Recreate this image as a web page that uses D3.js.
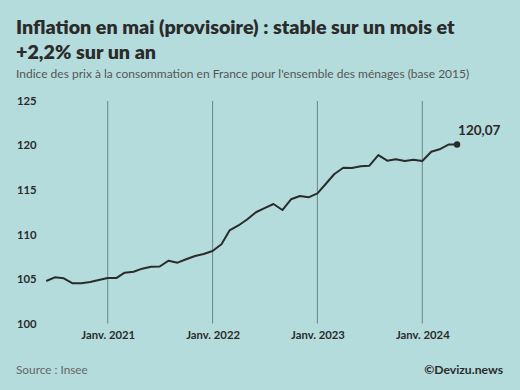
<!DOCTYPE html>
<html>
<head>
<meta charset="utf-8">
<script src="https://cdn.jsdelivr.net/npm/d3@7"></script>
<style>
html,body{margin:0;padding:0;background:#b4dcdc;}
svg{display:block;}
text{font-family:Lato, "Open Sans", sans-serif;}
</style>
</head>
<body>
<svg id="chart" width="520" height="390"></svg>
<script>
const startMonth = "2020-06";
const values = [
  104.81, 105.22, 105.11, 104.55, 104.55, 104.70, 104.92,
  105.15, 105.15, 105.74, 105.85, 106.19, 106.41, 106.43, 107.08, 106.86, 107.24, 107.61, 107.83,
  108.17, 108.92, 110.46, 111.02, 111.69, 112.50, 112.97, 113.42, 112.75, 113.95, 114.32, 114.17,
  114.62, 115.74, 116.78, 117.48, 117.45, 117.64, 117.71, 118.90, 118.27, 118.42, 118.23, 118.38,
  118.23, 119.27, 119.54, 120.07, 120.07
];
const yTicks = [100, 105, 110, 115, 120, 125];
const xTickYears = [2021, 2022, 2023, 2024];
const xTickLabels = ["Janv. 2021", "Janv. 2022", "Janv. 2023", "Janv. 2024"];
const title1 = "Inflation en mai (provisoire) : stable sur un mois et";
const title2 = "+2,2% sur un an";
const subtitle = "Indice des prix à la consommation en France pour l'ensemble des ménages (base 2015)";
const source = "Source : Insee";
const credit = "©Devizu.news";
const lastLabel = "120,07";

const [sy, sm] = startMonth.split("-").map(Number);
const data = values.map((v, i) => ({date: new Date(Date.UTC(sy, sm - 1 + i, 1)), value: v}));

const svg = d3.select("#chart");
const x = d3.scaleUtc()
  .domain([new Date(Date.UTC(2021,0,1)), new Date(Date.UTC(2024,0,1))])
  .range([107.7, 422.3]);
const y = d3.scaleLinear().domain([100, 125]).range([324, 100.5]);

const ink = "#2b2b2b";

// titles
svg.append("text").attr("x", 16).attr("y", 34).attr("font-size", 19.7).attr("font-weight", 800)
  .attr("fill", ink).text(title1);
svg.append("text").attr("x", 16).attr("y", 59).attr("font-size", 19.7).attr("font-weight", 800)
  .attr("fill", ink).text(title2);
svg.append("text").attr("x", 16).attr("y", 77.5).attr("font-size", 12)
  .attr("fill", "#555").text(subtitle);

// vertical gridlines
const xTickDates = xTickYears.map(yr => new Date(Date.UTC(yr, 0, 1)));
svg.append("g").selectAll("line").data(xTickDates).join("line")
  .attr("x1", d => x(d)).attr("x2", d => x(d))
  .attr("y1", 101).attr("y2", 323.5)
  .attr("stroke", "#6f8e8e").attr("stroke-width", 1.1);

// x labels
const xAxis = d3.axisBottom(x).tickValues(xTickDates)
  .tickFormat((d, i) => xTickLabels[i]).tickSize(0).tickPadding(0);
const gx = svg.append("g").attr("transform", "translate(0,331)").call(xAxis);
gx.select(".domain").remove();
gx.selectAll("text").attr("font-size", 11.3).attr("font-weight", 700).attr("fill", ink)
  .attr("font-family", "Lato, sans-serif").attr("dy", "0.71em");

// y labels
const yAxis = d3.axisLeft(y).tickValues(yTicks).tickSize(0).tickPadding(0);
const gy = svg.append("g").attr("transform", "translate(17,0)").call(yAxis);
gy.select(".domain").remove();
gy.selectAll("text").attr("text-anchor", "start").attr("font-size", 11.3).attr("font-weight", 700)
  .attr("fill", ink).attr("font-family", "Lato, sans-serif");

// line
const line = d3.line().x(d => x(d.date)).y(d => y(d.value));
svg.append("path").datum(data).attr("d", line).attr("fill", "none")
  .attr("stroke", ink).attr("stroke-width", 2).attr("stroke-linejoin", "round");

const last = data[data.length - 1];
svg.append("circle").attr("cx", x(last.date)).attr("cy", y(last.value)).attr("r", 3.2).attr("fill", ink);
svg.append("text").attr("x", x(last.date) + 1).attr("y", y(last.value) - 10)
  .attr("font-size", 13.5).attr("font-weight", 700).attr("fill", ink).text(lastLabel);

// footer
svg.append("text").attr("x", 16).attr("y", 373.5).attr("font-size", 11.8).attr("fill", "#666").text(source);
svg.append("text").attr("x", 503).attr("y", 373.5).attr("text-anchor", "end").attr("font-size", 12.2)
  .attr("font-weight", 700).attr("fill", ink).text(credit);
</script>
</body>
</html>
